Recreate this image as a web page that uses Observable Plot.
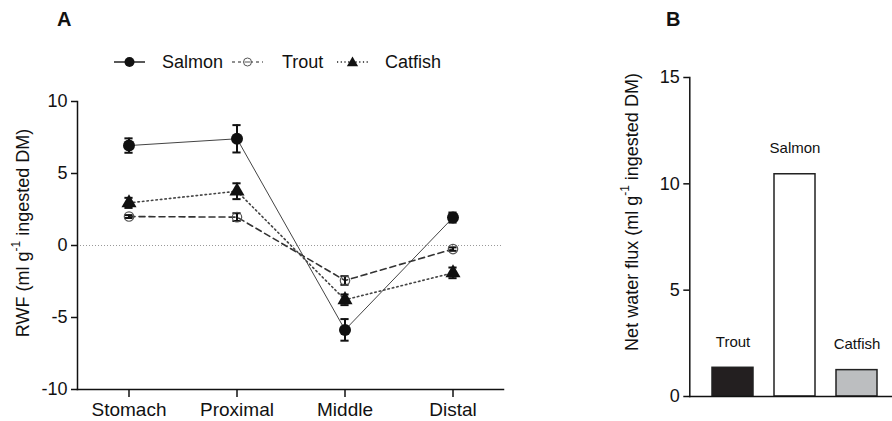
<!DOCTYPE html>
<html>
<head>
<meta charset="utf-8">
<script src="https://cdn.jsdelivr.net/npm/d3@7"></script>
<script src="https://cdn.jsdelivr.net/npm/@observablehq/plot@0.6"></script>
<style>
  html, body { margin: 0; padding: 0; background: #fff; }
  #wrap { position: relative; width: 892px; height: 421px; overflow: hidden; font-family: "Liberation Sans", Arial, sans-serif; }
  #wrap > * { position: absolute; }
  .letter { font-weight: bold; font-size: 20px; color: #111; }
</style>
</head>
<body>
<div id="wrap"></div>
<script>
// ---- Data ----
const segments = ["Stomach", "Proximal", "Middle", "Distal"];
const salmonRWF = [6.94, 7.41, -5.86, 1.94];
const salmonSE  = [0.50, 0.95, 0.75, 0.35];
const troutRWF  = [2.01, 1.97, -2.43, -0.25];
const troutSE   = [0.10, 0.27, 0.30, 0.12];
const catfishRWF = [2.96, 3.77, -3.77, -1.90];
const catfishSE  = [0.35, 0.55, 0.37, 0.37];
const rwfTicks = [-10, -5, 0, 5, 10];

const species = ["Trout", "Salmon", "Catfish"];
const netFlux = [1.35, 10.45, 1.24];
const fluxTicks = [0, 5, 10, 15];

const FONT = "Liberation Sans, Arial, sans-serif";
const wrap = document.getElementById("wrap");

function rows(vals, se, name) {
  return segments.map((s, i) => ({seg: s, v: vals[i], lo: vals[i] - se[i], hi: vals[i] + se[i], sp: name}));
}
const salmon = rows(salmonRWF, salmonSE, "Salmon");
const trout = rows(troutRWF, troutSE, "Trout");
const catfish = rows(catfishRWF, catfishSE, "Catfish");

function errMarks(data) {
  return [
    Plot.ruleX(data, {x: "seg", y1: "lo", y2: "hi", stroke: "#111", strokeWidth: 2}),
    Plot.tickY(data, {x: "seg", y: "lo", stroke: "#111", strokeWidth: 2, insetLeft: 1.4, insetRight: 1.4}),
    Plot.tickY(data, {x: "seg", y: "hi", stroke: "#111", strokeWidth: 2, insetLeft: 1.4, insetRight: 1.4})
  ];
}

// ---- Panel A ----
const plotA = Plot.plot({
  width: 540, height: 421,
  marginLeft: 77, marginTop: 101, marginBottom: 32, marginRight: 37,
  style: {fontFamily: FONT, background: "transparent", color: "#111"},
  x: {type: "band", domain: segments, paddingInner: 0.9, paddingOuter: 0.415},
  y: {domain: [-10, 10]},
  marks: [
    Plot.ruleY([0], {stroke: "#999", strokeWidth: 1, strokeDasharray: "1,2"}),
    Plot.line(salmon, {x: "seg", y: "v", stroke: "#444", strokeWidth: 1}),
    Plot.line(trout, {x: "seg", y: "v", stroke: "#333", strokeWidth: 1.6, strokeDasharray: "6,4"}),
    Plot.line(catfish, {x: "seg", y: "v", stroke: "#444", strokeWidth: 1.6, strokeDasharray: "1.5,3"}),
    ...errMarks(salmon), ...errMarks(trout), ...errMarks(catfish),
    Plot.dot(salmon, {x: "seg", y: "v", r: 6, fill: "#111", stroke: "none"}),
    Plot.dot(trout, {x: "seg", y: "v", r: 4.7, fill: "none", stroke: "#555", strokeWidth: 1.2}),
    Plot.dot(catfish, {x: "seg", y: "v", r: 5.6, symbol: "triangle", fill: "#111", stroke: "none"}),
    Plot.frame({anchor: "left", stroke: "#111", strokeWidth: 1.5}),
    Plot.frame({anchor: "bottom", stroke: "#111", strokeWidth: 1.5}),
    Plot.axisY({ticks: rwfTicks, tickFormat: d => String(d), tickSize: 6, tickPadding: 4, fontSize: 18, label: null, stroke: "#111", strokeWidth: 1.5}),
    Plot.axisX({tickSize: 8, tickPadding: 5, fontSize: 19, label: null, stroke: "#111", strokeWidth: 1.5})
  ]
});
plotA.style.left = "0px"; plotA.style.top = "0px";
wrap.appendChild(plotA);

function rotLabel(svg, cx, cy, pre, sup, post) {
  const t = d3.select(svg).append("text")
    .attr("transform", `translate(${cx},${cy}) rotate(-90)`)
    .attr("text-anchor", "middle").attr("dominant-baseline", "central")
    .attr("font-family", FONT).attr("font-size", 18).attr("fill", "#111");
  t.append("tspan").text(pre);
  t.append("tspan").attr("dy", -7).attr("font-size", 12).text(sup);
  t.append("tspan").attr("dy", 7).text(post);
}
rotLabel(plotA, 23, 233, "RWF (ml g", "-1", " ingested DM)");

// ---- Legend (Panel A) ----
const leg = d3.create("svg").attr("width", 480).attr("height", 40)
  .attr("font-family", FONT).attr("font-size", 18);
const ly = 20;
const items = [
  {name: "Salmon", x0: 114, dash: null, sw: 1.5, tx: 162},
  {name: "Trout", x0: 232, dash: "3,3", sw: 1.2, tx: 282},
  {name: "Catfish", x0: 337, dash: "1.2,2.5", sw: 1.4, tx: 385}
];
items.forEach(it => {
  leg.append("line").attr("x1", it.x0).attr("x2", it.x0 + 31).attr("y1", ly).attr("y2", ly)
    .attr("stroke", "#222").attr("stroke-width", it.sw).attr("stroke-dasharray", it.dash);
  const cx = it.x0 + 15.5;
  if (it.name === "Salmon") leg.append("circle").attr("cx", cx).attr("cy", ly).attr("r", 5).attr("fill", "#111");
  if (it.name === "Trout") leg.append("circle").attr("cx", cx).attr("cy", ly).attr("r", 4).attr("fill", "white").attr("stroke", "#555").attr("stroke-width", 1);
  if (it.name === "Trout") leg.append("line").attr("x1", cx - 3).attr("x2", cx + 3).attr("y1", ly).attr("y2", ly).attr("stroke", "#555");
  if (it.name === "Catfish") leg.append("path").attr("d", d3.symbol(d3.symbolTriangle, 55)()).attr("transform", `translate(${cx},${ly + 1})`).attr("fill", "#111");
  leg.append("text").attr("x", it.tx).attr("y", ly).attr("dominant-baseline", "central").attr("fill", "#111").text(it.name);
});
const legNode = leg.node();
legNode.style.left = "0px"; legNode.style.top = "42px";
wrap.appendChild(legNode);

// ---- Panel B ----
const fluxRows = species.map((s, i) => ({sp: s, v: netFlux[i]}));
const barFill = {Trout: "#231f20", Salmon: "#ffffff", Catfish: "#bcbec0"};
const plotB = Plot.plot({
  width: 312, height: 421,
  marginLeft: 109.3, marginTop: 77, marginBottom: 25, marginRight: 0,
  style: {fontFamily: FONT, background: "transparent", color: "#111"},
  x: {type: "band", domain: species, range: [109.3, 319.7], paddingInner: 0.34, paddingOuter: 0.34},
  y: {domain: [0, 15]},
  marks: [
    Plot.barY(fluxRows, {x: "sp", y: "v", fill: d => barFill[d.sp], stroke: "#222", strokeWidth: 1.5}),
    Plot.text(fluxRows, {x: "sp", y: "v", text: "sp", dy: -26, fontSize: 15, fill: "#111"}),
    Plot.frame({anchor: "left", stroke: "#111", strokeWidth: 1.5}),
    Plot.frame({anchor: "bottom", stroke: "#111", strokeWidth: 1.5}),
    Plot.axisY({ticks: fluxTicks, tickSize: 6, tickPadding: 4, fontSize: 18, label: null, stroke: "#111", strokeWidth: 1.5}),
    Plot.axisX({ticks: [], label: null})
  ]
});
plotB.style.left = "580px"; plotB.style.top = "0px";
wrap.appendChild(plotB);
rotLabel(plotB, 52, 212, "Net water flux (ml g", "-1", " ingested DM)");

// ---- Panel letters ----
const la = document.createElement("div"); la.className = "letter"; la.textContent = "A";
la.style.left = "57px"; la.style.top = "8px"; wrap.appendChild(la);
const lb = document.createElement("div"); lb.className = "letter"; lb.textContent = "B";
lb.style.left = "666px"; lb.style.top = "8px"; wrap.appendChild(lb);
</script>
</body>
</html>
